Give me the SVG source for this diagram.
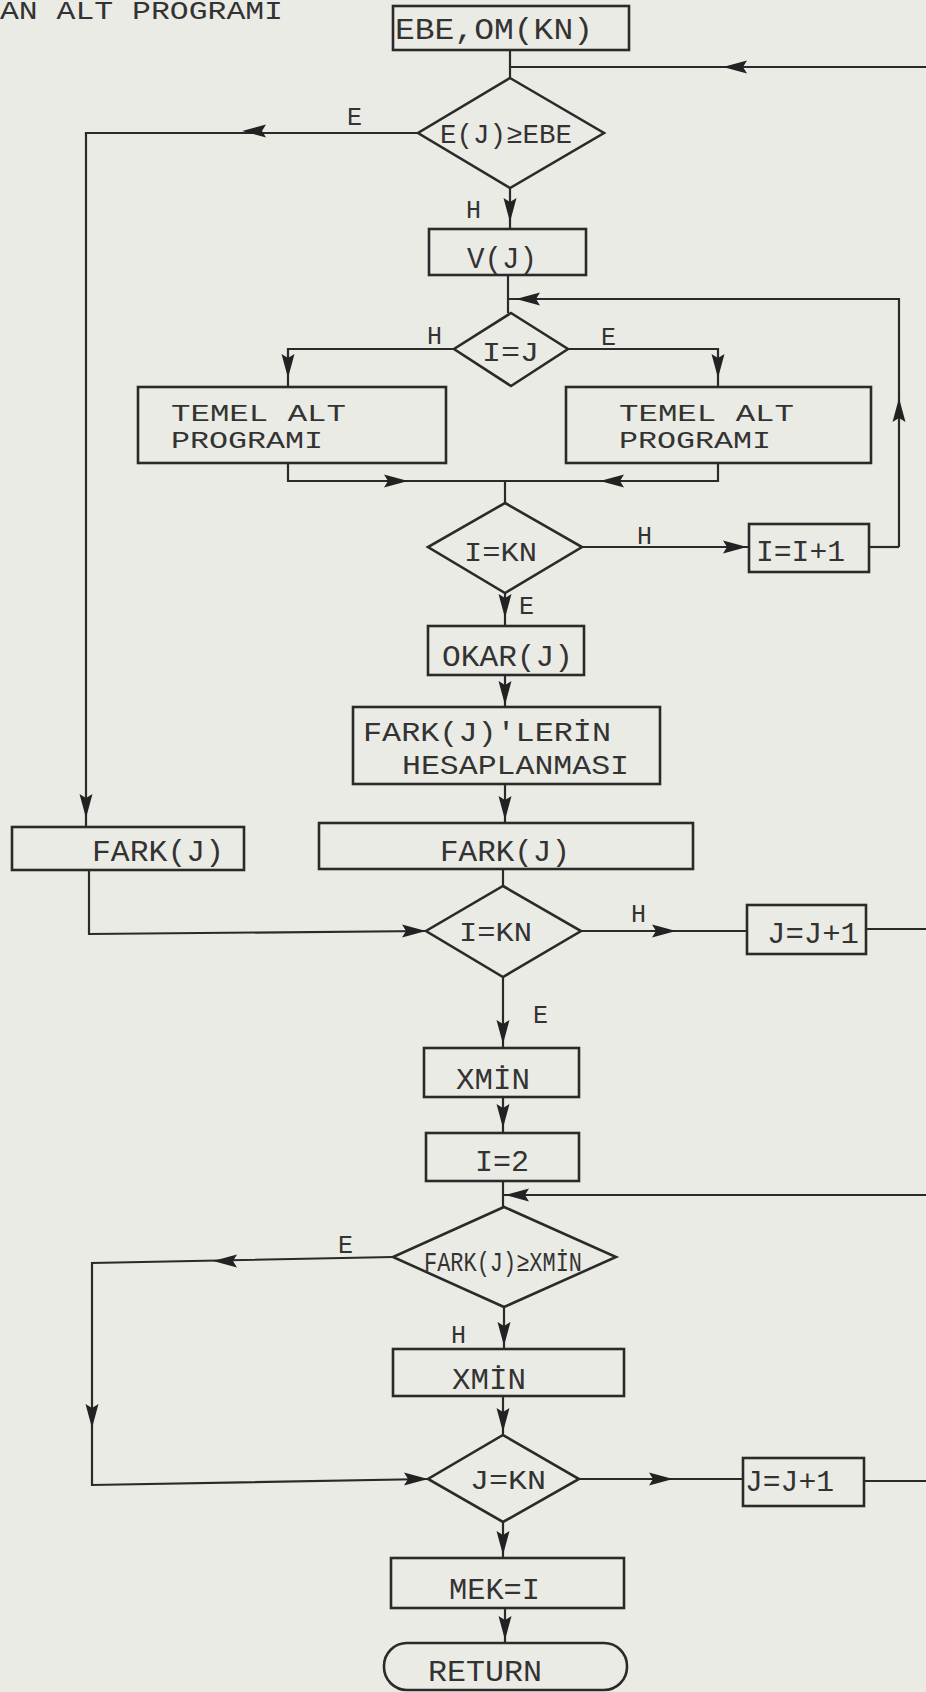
<svg xmlns="http://www.w3.org/2000/svg" xmlns:xlink="http://www.w3.org/1999/xlink" width="926" height="1692" viewBox="0 0 926 1692">
<style>
.bg{fill:#ebebe5}
.box{fill:none;stroke:#2a2a2a;stroke-width:2.6}
.ln{fill:none;stroke:#2a2a2a;stroke-width:2.2}
.t{font-family:"Liberation Mono","DejaVu Sans Mono",monospace;font-size:30px;fill:#333}
.t2{font-family:"Liberation Mono","DejaVu Sans Mono",monospace;font-size:24px;fill:#333}
.lb{font-family:"Liberation Mono","DejaVu Sans Mono",monospace;font-size:25px;fill:#333}
.ah{fill:#222}
</style>
<defs>
<path id="ah" class="ah" d="M0,0 L-24,-6.5 L-20,0 L-24,6.5 Z"/>
</defs>
<rect class="bg" x="0" y="0" width="926" height="1692"/>
<text class="t" x="0" y="19" textLength="283" lengthAdjust="spacingAndGlyphs" style="font-size:25px">AN ALT PROGRAMI</text>

<g id="connectors">
<path class="ln" d="M510,50 V78"/>
<path class="ln" d="M926,67 H510"/>
<path class="ln" d="M418,133 H86 V827"/>
<path class="ln" d="M510,188 V229"/>
<path class="ln" d="M508,275 V313"/>
<path class="ln" d="M899,547 V299 H508"/>
<path class="ln" d="M869,547 H899"/>
<path class="ln" d="M454,349 H288 V387"/>
<path class="ln" d="M568,349 H718 V387"/>
<path class="ln" d="M288,463 V481 H718 V463"/>
<path class="ln" d="M505,481 V503"/>
<path class="ln" d="M582,547 H749"/>
<path class="ln" d="M505,593 V626"/>
<path class="ln" d="M505,675 V707"/>
<path class="ln" d="M505,784 V823"/>
<path class="ln" d="M503,869 V886"/>
<path class="ln" d="M89,870 V934 L426,931"/>
<path class="ln" d="M581,931 H747"/>
<path class="ln" d="M866,929 H926"/>
<path class="ln" d="M503,977 V1048"/>
<path class="ln" d="M503,1097 V1133"/>
<path class="ln" d="M503,1181 V1207"/>
<path class="ln" d="M926,1195 H503"/>
<path class="ln" d="M393,1257 L92,1263 V1485 L428,1479"/>
<path class="ln" d="M504,1307 V1349"/>
<path class="ln" d="M503,1396 V1435"/>
<path class="ln" d="M579,1479 H743"/>
<path class="ln" d="M864,1481 H926"/>
<path class="ln" d="M503,1522 V1558"/>
<path class="ln" d="M505,1608 V1643"/>
<use xlink:href="#ah" transform="translate(723,67) rotate(180)"/>
<use xlink:href="#ah" transform="translate(242,131) rotate(180)"/>
<use xlink:href="#ah" transform="translate(510,222) rotate(90)"/>
<use xlink:href="#ah" transform="translate(516,299) rotate(180)"/>
<use xlink:href="#ah" transform="translate(899,398) rotate(-90)"/>
<use xlink:href="#ah" transform="translate(288,378) rotate(90)"/>
<use xlink:href="#ah" transform="translate(718,378) rotate(90)"/>
<use xlink:href="#ah" transform="translate(408,481)"/>
<use xlink:href="#ah" transform="translate(600,481) rotate(180)"/>
<use xlink:href="#ah" transform="translate(747,547)"/>
<use xlink:href="#ah" transform="translate(505,618) rotate(90)"/>
<use xlink:href="#ah" transform="translate(505,705) rotate(90)"/>
<use xlink:href="#ah" transform="translate(505,820) rotate(90)"/>
<use xlink:href="#ah" transform="translate(86,818) rotate(90)"/>
<use xlink:href="#ah" transform="translate(426,931)"/>
<use xlink:href="#ah" transform="translate(676,931)"/>
<use xlink:href="#ah" transform="translate(503,1044) rotate(90)"/>
<use xlink:href="#ah" transform="translate(503,1128) rotate(90)"/>
<use xlink:href="#ah" transform="translate(505,1195) rotate(180)"/>
<use xlink:href="#ah" transform="translate(213,1261) rotate(180)"/>
<use xlink:href="#ah" transform="translate(504,1346) rotate(90)"/>
<use xlink:href="#ah" transform="translate(92,1428) rotate(90)"/>
<use xlink:href="#ah" transform="translate(503,1432) rotate(90)"/>
<use xlink:href="#ah" transform="translate(428,1479)"/>
<use xlink:href="#ah" transform="translate(673,1479)"/>
<use xlink:href="#ah" transform="translate(503,1555) rotate(90)"/>
<use xlink:href="#ah" transform="translate(505,1640) rotate(90)"/>
</g>

<g id="labels">
<text class="lb" x="347" y="125">E</text>
<text class="lb" x="466" y="218">H</text>
<text class="lb" x="427" y="344">H</text>
<text class="lb" x="601" y="345">E</text>
<text class="lb" x="637" y="544">H</text>
<text class="lb" x="519" y="614">E</text>
<text class="lb" x="631" y="922">H</text>
<text class="lb" x="533" y="1023">E</text>
<text class="lb" x="338" y="1253">E</text>
<text class="lb" x="451" y="1343">H</text>
</g>

<g id="n_ebe">
<rect class="box" x="393" y="6" width="236" height="44"/>
<text class="t" x="395" y="39" textLength="198" lengthAdjust="spacingAndGlyphs">EBE,OM(KN)</text>
</g>
<g id="d_ejebe">
<polygon class="box" points="510,78 604,133 510,188 418,133"/>
<text class="t" x="440" y="143" textLength="132" lengthAdjust="spacingAndGlyphs" style="font-size:27px">E(J)≥EBE</text>
</g>
<g id="n_vj">
<rect class="box" x="429" y="229" width="157" height="46"/>
<text class="t" x="467" y="268" textLength="70" lengthAdjust="spacingAndGlyphs">V(J)</text>
</g>
<g id="d_ij">
<polygon class="box" points="511,313 568,349 511,386 454,349"/>
<text class="t" x="482" y="361" textLength="57" lengthAdjust="spacingAndGlyphs" style="font-size:28px">I=J</text>
</g>
<g id="n_temel1">
<rect class="box" x="138" y="387" width="308" height="76"/>
<text class="t2" x="171" y="421" textLength="175" lengthAdjust="spacingAndGlyphs">TEMEL ALT</text>
<text class="t2" x="171" y="448" textLength="152" lengthAdjust="spacingAndGlyphs">PROGRAMI</text>
</g>
<g id="n_temel2">
<rect class="box" x="566" y="387" width="305" height="76"/>
<text class="t2" x="619" y="421" textLength="175" lengthAdjust="spacingAndGlyphs">TEMEL ALT</text>
<text class="t2" x="619" y="448" textLength="152" lengthAdjust="spacingAndGlyphs">PROGRAMI</text>
</g>
<g id="d_ikn1">
<polygon class="box" points="505,503 582,547 505,593 428,547"/>
<text class="t" x="464" y="561" textLength="73" lengthAdjust="spacingAndGlyphs" style="font-size:28px">I=KN</text>
</g>
<g id="n_ii1">
<rect class="box" x="749" y="524" width="120" height="48"/>
<text class="t" x="756" y="561" textLength="89" lengthAdjust="spacingAndGlyphs">I=I+1</text>
</g>
<g id="n_okar">
<rect class="box" x="428" y="626" width="156" height="49"/>
<text class="t" x="442" y="666" textLength="131" lengthAdjust="spacingAndGlyphs">OKAR(J)</text>
</g>
<g id="n_farkhes">
<rect class="box" x="353" y="707" width="307" height="77"/>
<text class="t2" x="363" y="741" textLength="248" lengthAdjust="spacingAndGlyphs" style="font-size:27px">FARK(J)'LERİN</text>
<text class="t2" x="402" y="774" textLength="227" lengthAdjust="spacingAndGlyphs" style="font-size:27px">HESAPLANMASI</text>
</g>
<g id="n_fark_mid">
<rect class="box" x="319" y="823" width="374" height="46"/>
<text class="t" x="440" y="861" textLength="130" lengthAdjust="spacingAndGlyphs">FARK(J)</text>
</g>
<g id="n_fark_left">
<rect class="box" x="12" y="827" width="232" height="43"/>
<text class="t" x="92" y="861" textLength="132" lengthAdjust="spacingAndGlyphs">FARK(J)</text>
</g>
<g id="d_ikn2">
<polygon class="box" points="503,886 581,931 503,977 426,931"/>
<text class="t" x="459" y="941" textLength="73" lengthAdjust="spacingAndGlyphs" style="font-size:28px">I=KN</text>
</g>
<g id="n_jj1">
<rect class="box" x="747" y="905" width="119" height="49"/>
<text class="t" x="767" y="943" textLength="92" lengthAdjust="spacingAndGlyphs">J=J+1</text>
</g>
<g id="n_xmin1">
<rect class="box" x="424" y="1048" width="155" height="49"/>
<text class="t" x="456" y="1089" textLength="74" lengthAdjust="spacingAndGlyphs">XMİN</text>
</g>
<g id="n_i2">
<rect class="box" x="426" y="1133" width="153" height="48"/>
<text class="t" x="475" y="1171" textLength="54" lengthAdjust="spacingAndGlyphs">I=2</text>
</g>
<g id="d_fark_xmin">
<polygon class="box" points="504,1207 616,1257 504,1307 393,1257"/>
<text class="t" x="424" y="1271" textLength="158" lengthAdjust="spacingAndGlyphs" style="font-size:27px">FARK(J)≥XMİN</text>
</g>
<g id="n_xmin2">
<rect class="box" x="393" y="1349" width="231" height="47"/>
<text class="t" x="452" y="1389" textLength="74" lengthAdjust="spacingAndGlyphs">XMİN</text>
</g>
<g id="d_jkn">
<polygon class="box" points="503,1435 579,1479 503,1522 428,1479"/>
<text class="t" x="470" y="1489" textLength="76" lengthAdjust="spacingAndGlyphs" style="font-size:28px">J=KN</text>
</g>
<g id="n_jj2">
<rect class="box" x="743" y="1458" width="121" height="48"/>
<text class="t" x="745" y="1491" textLength="89" lengthAdjust="spacingAndGlyphs">J=J+1</text>
</g>
<g id="n_mek">
<rect class="box" x="391" y="1558" width="233" height="50"/>
<text class="t" x="449" y="1599" textLength="91" lengthAdjust="spacingAndGlyphs">MEK=I</text>
</g>
<g id="n_return">
<rect class="box" x="384" y="1643" width="243" height="47" rx="23" ry="23"/>
<text class="t" x="428" y="1681" textLength="114" lengthAdjust="spacingAndGlyphs">RETURN</text>
</g>
</svg>
